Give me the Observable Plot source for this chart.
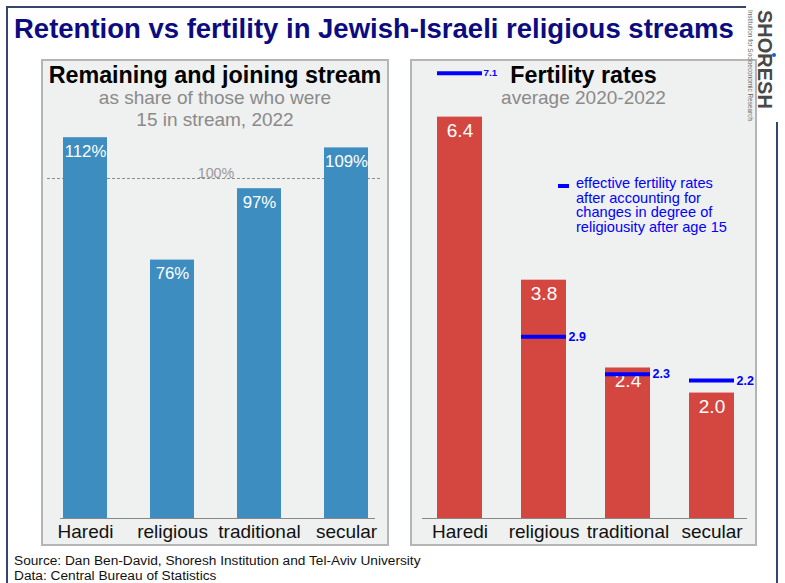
<!DOCTYPE html>
<html><head><meta charset="utf-8">
<script src="https://cdn.jsdelivr.net/npm/d3@7"></script>
<script src="https://cdn.jsdelivr.net/npm/@observablehq/plot@0.6"></script>
<style>
body{margin:0;background:#fff;font-family:"Liberation Sans",Arial,sans-serif;}
#root{position:relative;width:785px;height:583px;overflow:hidden;background:#fff;}
.abs{position:absolute;white-space:nowrap;}
.frame{position:absolute;left:6px;top:6px;width:772px;height:620px;border:2px solid #34466e;box-sizing:border-box;}
.panel{position:absolute;top:59px;height:487px;background:#eff0f0;border:2px solid #b5b5b5;box-sizing:border-box;}
.ptitle{position:absolute;text-align:center;font-weight:bold;font-size:23.3px;color:#000;line-height:normal;white-space:nowrap;}
.psub{position:absolute;text-align:center;font-size:19px;color:#8a8a8a;line-height:22px;white-space:nowrap;}
.plotbox{position:absolute;top:60px;}
</style></head>
<body><div id="root">
<div class="frame"></div>
<div class="panel" style="left:41px;width:348px;"></div>
<div class="panel" style="left:410px;width:347px;"></div>
<div id="leftplot" class="plotbox" style="left:42px;"></div>
<div id="rightplot" class="plotbox" style="left:411px;"></div>
<div class="abs" style="left:14px;top:13px;font-size:27.5px;font-weight:bold;color:#0c0c80;">Retention vs fertility in Jewish-Israeli religious streams</div>
<div class="ptitle" style="left:42px;width:346px;top:62px;">Remaining and joining stream</div>
<div class="psub" style="left:42px;width:346px;top:86.5px;">as share of those who were<br>15 in stream, 2022</div>
<div class="ptitle" style="left:411px;width:345px;top:62px;">Fertility rates</div>
<div class="psub" style="left:411px;width:345px;top:86.5px;">average 2020-2022</div>
<div class="abs" style="left:558px;top:183.5px;width:11px;height:4px;background:#0000ff;"></div>
<div class="abs" style="left:576px;top:176px;font-size:14.6px;line-height:14.5px;color:#0000ff;">effective fertility rates<br>after accounting for<br>changes in degree of<br>religiousity after age 15</div>
<div class="abs" style="left:14px;top:553px;font-size:13.7px;line-height:15px;color:#111;">Source: Dan Ben-David, Shoresh Institution and Tel-Aviv University<br>Data: Central Bureau of Statistics</div>
<div class="abs" style="left:746px;top:0;width:39px;height:58px;background:#fff;"></div>
<div class="abs" style="left:757px;top:58px;width:28px;height:64px;background:#fff;"></div>
<div class="abs" style="left:775.8px;top:10px;font-size:20px;font-weight:bold;color:#484848;transform:rotate(90deg);transform-origin:0 0;">SHORESH</div>
<div class="abs" style="left:754.2px;top:10px;font-size:6.4px;color:#666;transform:rotate(90deg);transform-origin:0 0;">Institution for Socioeconomic Research</div>
<div class="abs" style="left:772px;top:53px;width:4px;height:4px;border-radius:2px;background:#1f5fbf;"></div>
</div>
<script>
const streams = ["Haredi", "religious", "traditional", "secular"];
const retention = [112, 76, 97, 109];
const fertility = [6.4, 3.8, 2.4, 2.0];
const effective = [7.1, 2.9, 2.3, 2.2];
const parity = [100];

const retData = streams.map((s, i) => ({stream: s, value: retention[i]}));
const fertData = streams.map((s, i) => ({stream: s, value: fertility[i]}));
const effData = streams.map((s, i) => ({stream: s, value: effective[i]}));
const font = "Liberation Sans, Arial, sans-serif";

const left = Plot.plot({
  width: 346, height: 485,
  marginLeft: 19, marginRight: 18, marginTop: 50, marginBottom: 27,
  style: {background: "transparent", overflow: "visible", fontFamily: font},
  x: {domain: streams, paddingInner: 0.4886, paddingOuter: 0, axis: null},
  y: {domain: [0, 120], axis: null},
  marks: [
    Plot.ruleY(parity, {stroke: "#8c8c8c", strokeDasharray: "3,2", insetLeft: -14, insetRight: -12}),
    Plot.text(parity, {y: d => d, text: d => d + "%", frameAnchor: "middle", lineAnchor: "bottom", dy: -1, fill: "#999", fontSize: 14.3}),
    Plot.barY(retData, {x: "stream", y: "value", fill: "#3e8dc0"}),
    Plot.ruleY([0], {stroke: "#888", insetLeft: -1, insetRight: -5}),
    Plot.text(retData, {x: "stream", y: "value", text: d => d.value + "%", lineAnchor: "top", dy: 7, fill: "white", fontSize: 16.8}),
    Plot.text(retData, {x: "stream", y: 0, text: "stream", lineAnchor: "top", dy: 6, fill: "#111", fontSize: 19})
  ]
});
document.getElementById("leftplot").appendChild(left);

const right = Plot.plot({
  width: 345, height: 485,
  marginLeft: 25, marginRight: 22, marginTop: 19, marginBottom: 27,
  style: {background: "transparent", overflow: "visible", fontFamily: font},
  x: {domain: streams, paddingInner: 0.4664, paddingOuter: 0, axis: null},
  y: {domain: [0, 7], axis: null},
  marks: [
    Plot.barY(fertData, {x: "stream", y: "value", fill: "#d44741"}),
    Plot.ruleY([0], {stroke: "#888", insetLeft: -14, insetRight: -13}),
    Plot.text(fertData, {x: "stream", y: "value", text: d => d.value.toFixed(1), lineAnchor: "top", dy: 6, fill: "white", fontSize: 19}),
    Plot.tickY(effData, {x: "stream", y: "value", stroke: "#0000ff", strokeWidth: 4}),
    Plot.text(effData.filter(d => d.stream === "Haredi"), {x: "stream", y: "value", text: d => d.value.toFixed(1), dx: 23.5, textAnchor: "start", fill: "#0000ff", fontWeight: "bold", fontSize: 9.8}),
    Plot.text(effData.filter(d => d.stream !== "Haredi"), {x: "stream", y: "value", text: d => d.value.toFixed(1), dx: 24.5, textAnchor: "start", fill: "#0000ff", fontWeight: "bold", fontSize: 12.5}),
    Plot.text(fertData, {x: "stream", y: 0, text: "stream", lineAnchor: "top", dy: 6, fill: "#111", fontSize: 19})
  ]
});
document.getElementById("rightplot").appendChild(right);
</script>
</body></html>
